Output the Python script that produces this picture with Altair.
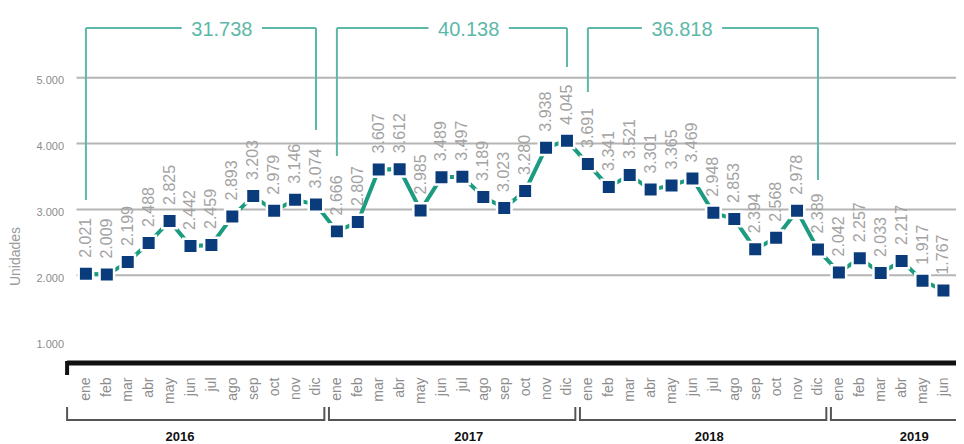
import altair as alt
import pandas as pd

months = ["ene", "feb", "mar", "abr", "may", "jun", "jul", "ago", "sep", "oct", "nov", "dic"]
years = ["2016", "2017", "2018", "2019"]

v2016 = [2021, 2009, 2199, 2488, 2825, 2442, 2459, 2893, 3203, 2979, 3146, 3074]
v2017 = [2666, 2807, 3607, 3612, 2985, 3489, 3497, 3189, 3023, 3280, 3938, 4045]
v2018 = [3691, 3341, 3521, 3301, 3365, 3469, 2948, 2853, 2394, 2568, 2978, 2389]
v2019 = [2042, 2257, 2033, 2217, 1917, 1767]

y_ticks = [1000, 2000, 3000, 4000, 5000]
grid_vals = [2000, 3000, 4000, 5000]

# top total brackets (month index range, text centre, bottoms of the two legs)
br_left = [0, 12, 24]
br_right = [11, 23, 35]
br_text_x = [6.5, 18.3, 28.5]
br_left_bottom = [3143, 3812, 4784]
br_right_bottom = [4207, 5164, 3447]
br_top = 5757
br_gap = 1.92

# year brackets under the month axis
yr_start = [-0.9, 11.62, 23.62, 35.62]
yr_end = [11.4, 23.4, 35.4, 42.0]
yr_label_x = [4.5, 18.3, 29.8, 39.6]

TEAL_LINE = "#1b9b7f"
TEAL_BR = "#5db8a8"
NAVY = "#0a3b7a"
FONT = "Liberation Sans, Arial, sans-serif"


def fmt(n):
    return f"{n:,}".replace(",", ".")


values = v2016 + v2017 + v2018 + v2019
df = pd.DataFrame({"i": list(range(len(values))), "v": values, "lab": [fmt(v) for v in values]})

totals = [fmt(sum(v2016)), fmt(sum(v2017)), fmt(sum(v2018))]

seg_rows = []
for k in range(3):
    seg_rows.append({"x": br_left[k], "x2": br_left[k], "y": br_top, "y2": br_left_bottom[k]})
    seg_rows.append({"x": br_right[k], "x2": br_right[k], "y": br_top, "y2": br_right_bottom[k]})
    seg_rows.append({"x": br_left[k], "x2": br_text_x[k] - br_gap, "y": br_top, "y2": br_top})
    seg_rows.append({"x": br_text_x[k] + br_gap, "x2": br_right[k], "y": br_top, "y2": br_top})
seg_df = pd.DataFrame(seg_rows)
tot_df = pd.DataFrame({"x": br_text_x, "t": totals, "y": [br_top] * 3})

yr_df = pd.DataFrame({"s": yr_start, "e": yr_end, "lx": yr_label_x, "yr": years})

x_scale = alt.Scale(domain=[-0.45, 41.6], nice=False, zero=False)
y_scale = alt.Scale(domain=[1000, 6000], nice=False, zero=False)

month_expr = "[" + ",".join(f"'{m}'" for m in months) + "][datum.value % 12]"

x_axis = alt.Axis(
    values=list(range(len(values))),
    labelExpr=month_expr,
    labelAngle=270,
    labelAlign="right",
    labelBaseline="middle",
    labelFontSize=14,
    labelColor="#8c8c8c",
    labelFont=FONT,
    labelPadding=36,
    labelFlush=False,
    labelOverlap=False,
    labelBound=False,
    domain=False,
    ticks=False,
    tickSize=0,
    grid=False,
    title=None,
)

y_axis = alt.Axis(
    values=y_ticks,
    labelExpr="replace(format(datum.value, ','), ',', '.')",
    labelOverlap=False,
    domain=False,
    ticks=False,
    tickSize=0,
    grid=False,
    labelPadding=13,
    labelFontSize=11,
    labelColor="#8c8c8c",
    labelFont=FONT,
    labelOffset=3,
    title="Unidades",
    titleFont=FONT,
    titleFontSize=14,
    titleFontWeight="normal",
    titleColor="#9a9a9a",
    titleAngle=270,
    titleAlign="center",
    titleBaseline="middle",
    titleX=-61,
    titleY=244,
)


def X(field):
    return alt.X(field, scale=x_scale, axis=x_axis)


def Y(field):
    return alt.Y(field, scale=y_scale, axis=y_axis)


grid = alt.Chart(pd.DataFrame({"g": grid_vals})).mark_rule(
    color="#b5b5b5", strokeWidth=2
).encode(y=Y("g:Q"))

line = alt.Chart(df).mark_line(color=TEAL_LINE, strokeWidth=4).encode(x=X("i:Q"), y=Y("v:Q"))

points = alt.Chart(df).mark_point(
    shape="square", filled=True, size=210, fill=NAVY, stroke="white", strokeWidth=2.5, opacity=1
).encode(x=X("i:Q"), y=Y("v:Q"))

labels = alt.Chart(df).mark_text(
    angle=270, align="left", baseline="middle", dx=16, fontSize=16, color="#a3a3a3", font=FONT
).encode(x=X("i:Q"), y=Y("v:Q"), text="lab:N")

brackets = alt.Chart(seg_df).mark_rule(color=TEAL_BR, strokeWidth=2).encode(
    x=X("x:Q"), x2="x2:Q", y=Y("y:Q"), y2="y2:Q"
)

tot_text = alt.Chart(tot_df).mark_text(
    fontSize=20, color=TEAL_BR, baseline="middle", align="center", font=FONT, dy=2
).encode(x=X("x:Q"), y=Y("y:Q"), text="t:N")

axis_line = alt.Chart(yr_df.head(1)).mark_rule(color="#111111", strokeWidth=5).encode(
    x=X("s:Q"), x2=alt.X2("e2:Q"), y=alt.value(351)
).transform_calculate(e2="42.5")

axis_hook = alt.Chart(yr_df.head(1)).mark_rule(color="#111111", strokeWidth=4).encode(
    x=X("s:Q"), y=alt.value(349), y2=alt.value(363)
)

yr_h = alt.Chart(yr_df).mark_rule(color="#555555", strokeWidth=2).encode(
    x=X("s:Q"), x2="e:Q", y=alt.value(408)
)
yr_l = alt.Chart(yr_df).mark_rule(color="#555555", strokeWidth=2).encode(
    x=X("s:Q"), y=alt.value(395), y2=alt.value(409)
)
yr_r = alt.Chart(yr_df).mark_rule(color="#555555", strokeWidth=2).encode(
    x=X("e:Q"), y=alt.value(395), y2=alt.value(409)
)
yr_text = alt.Chart(yr_df).mark_text(
    fontSize=13, fontWeight="bold", color="#111111", baseline="middle", font=FONT
).encode(x=X("lx:Q"), y=alt.value(425), text="yr:N")

chart = alt.layer(
    grid, line, points, labels, brackets, tot_text, axis_line, axis_hook, yr_h, yr_l, yr_r, yr_text
).properties(
    width=879.5,
    height=329,
    autosize=alt.AutoSizeParams(type="none"),
    padding={"left": 68.5, "top": 4, "right": 0, "bottom": 103},
    background="white",
).configure_view(stroke=None)

chart.save("out.html", embed_options={"renderer": "svg", "actions": False})
